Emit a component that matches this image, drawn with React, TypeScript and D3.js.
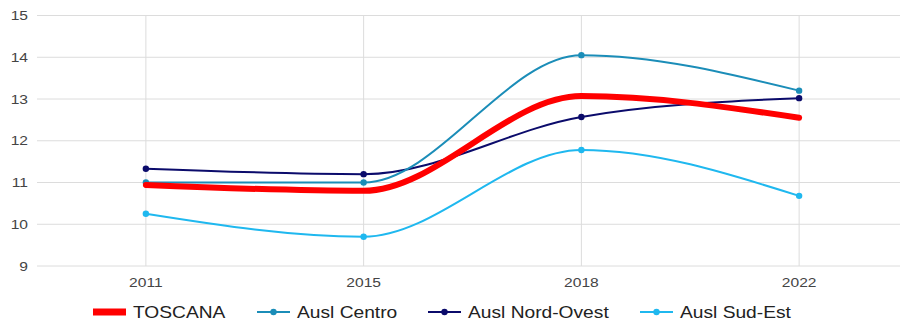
import * as d3 from 'd3'

const years = ['2011', '2015', '2018', '2022']
const yTicks = [9, 10, 11, 12, 13, 14, 15]

const toscana = [10.94, 10.8, 13.07, 12.55]
const auslCentro = [11.0, 11.0, 14.05, 13.2]
const auslNordOvest = [11.33, 11.2, 12.57, 13.02]
const auslSudEst = [10.25, 9.7, 11.78, 10.68]

interface Series {
  name: string
  values: number[]
  color: string
  width: number
  dots: boolean
  legendX: number
}

const series: Series[] = [
  { name: 'TOSCANA', values: toscana, color: '#ff0000', width: 6, dots: false, legendX: 93 },
  { name: 'Ausl Centro', values: auslCentro, color: '#1b8db8', width: 2, dots: true, legendX: 257 },
  { name: 'Ausl Nord-Ovest', values: auslNordOvest, color: '#0b0b6b', width: 2, dots: true, legendX: 428 },
  { name: 'Ausl Sud-Est', values: auslSudEst, color: '#1fb8ef', width: 2, dots: true, legendX: 640 },
]

const W = 900
const H = 320
const left = 37
const stretch = 1.2 // the source image text is a bit wider than normal

const x = d3.scalePoint<string>().domain(years).range([left, 908]).padding(0.5)
const y = d3.scaleLinear().domain([9, 15]).range([266, 15.5])

const line = d3
  .line<number>()
  .x((_d, i) => x(years[i]) as number)
  .y((d) => y(d))
  .curve(d3.curveMonotoneX)

export default function App() {
  // draw order: Sud-Est, Nord-Ovest, Centro, Toscana on top
  const drawOrder = [3, 2, 1, 0].map((i) => series[i])
  return (
    <svg
      width={W}
      height={H}
      style={{ position: 'absolute', left: 0, top: 0, background: '#fff' }}
      fontFamily="'Liberation Sans', Arial, sans-serif"
    >
      {yTicks.map((t) => (
        <g key={t}>
          <line x1={left} x2={W} y1={y(t)} y2={y(t)} stroke="#dcdcdc" strokeWidth={1} />
          <g transform={`translate(28,${y(t)}) scale(${stretch},1)`}>
            <text dy="0.35em" textAnchor="end" fontSize={13} fill="#444">
              {t}
            </text>
          </g>
        </g>
      ))}
      {years.map((yr) => (
        <g key={yr}>
          <line x1={x(yr)} x2={x(yr)} y1={y(15)} y2={y(9)} stroke="#dcdcdc" strokeWidth={1} />
          <g transform={`translate(${x(yr)},282) scale(${stretch},1)`}>
            <text dy="0.35em" textAnchor="middle" fontSize={13} fill="#444">
              {yr}
            </text>
          </g>
        </g>
      ))}
      {drawOrder.map((s) => (
        <g key={s.name}>
          <path
            d={line(s.values) ?? undefined}
            fill="none"
            stroke={s.color}
            strokeWidth={s.width}
            strokeLinecap="round"
            strokeLinejoin="round"
          />
          {s.dots &&
            s.values.map((v, i) => (
              <circle key={i} cx={x(years[i])} cy={y(v)} r={3.2} fill={s.color} />
            ))}
        </g>
      ))}
      {series.map((s) => (
        <g key={s.name} transform={`translate(${s.legendX},312)`}>
          <line x1={0} x2={33} y1={0} y2={0} stroke={s.color} strokeWidth={s.dots ? 2 : 7} />
          {s.dots && <circle cx={16.5} cy={0} r={3.2} fill={s.color} />}
          <g transform={`translate(40,0) scale(${stretch},1)`}>
            <text dy="0.35em" fontSize={16} fill="#222">
              {s.name}
            </text>
          </g>
        </g>
      ))}
    </svg>
  )
}
